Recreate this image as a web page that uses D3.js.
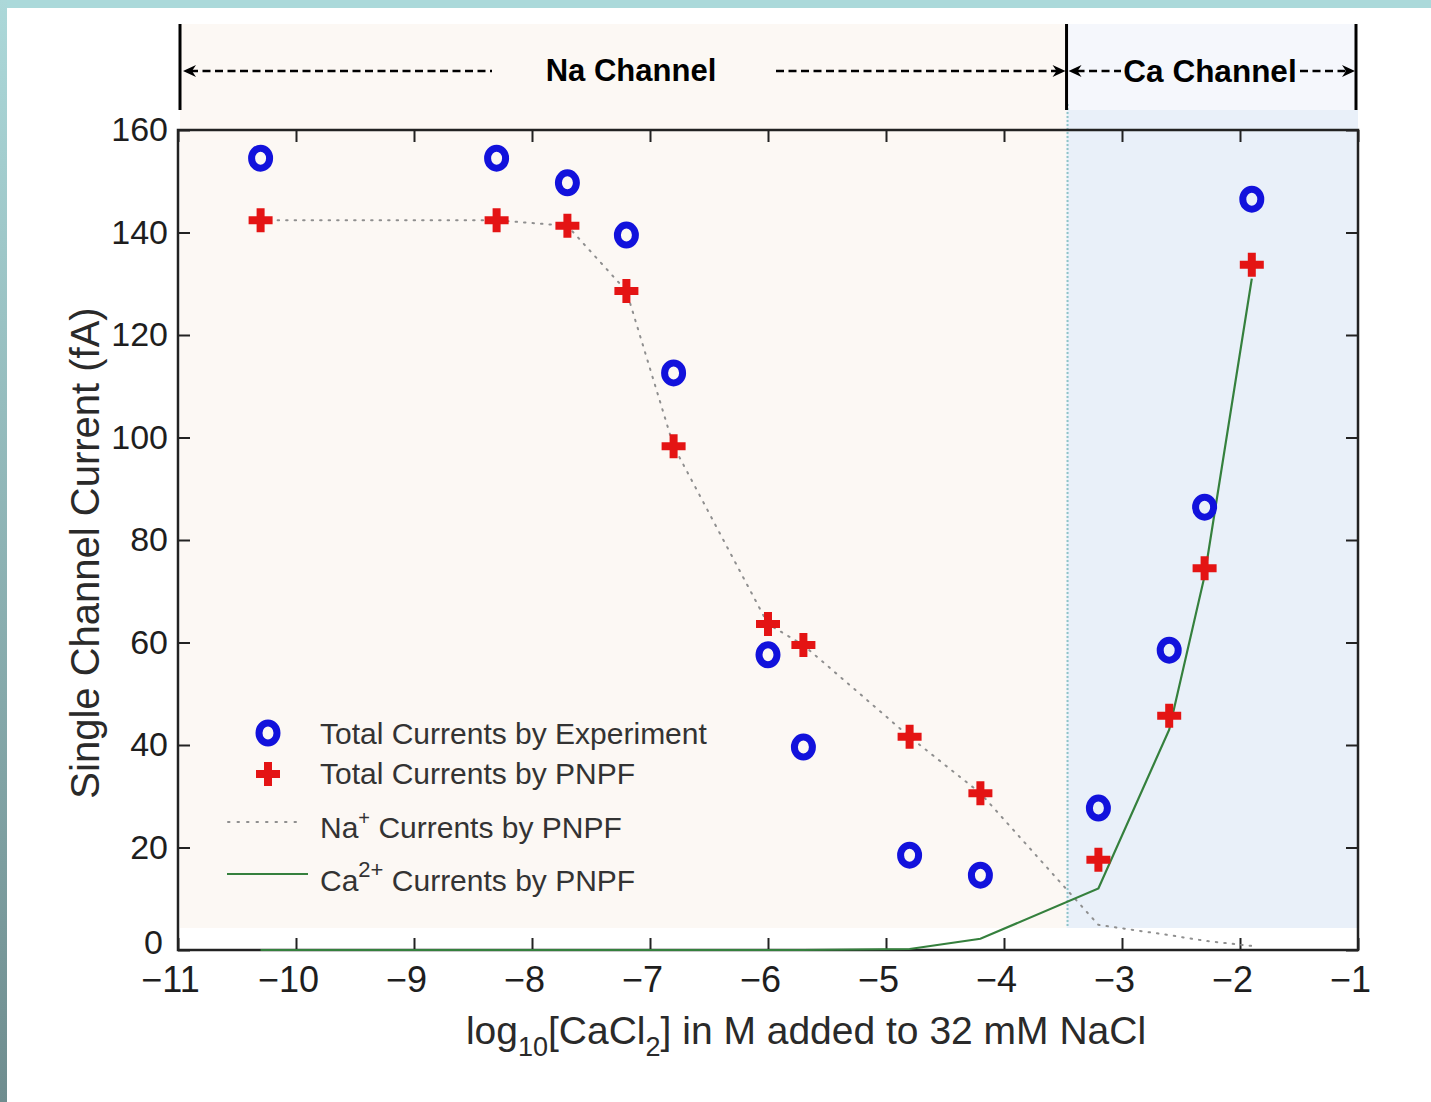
<!DOCTYPE html>
<html>
<head>
<meta charset="utf-8">
<script src="https://cdn.jsdelivr.net/npm/d3@7"></script>
<style>
  body { margin: 0; background: #ffffff; }
  svg { display: block; }
  text { font-family: "Liberation Sans", Arial, sans-serif; }
</style>
</head>
<body>
<script>
// ---------------- data ----------------
const logCaCl2 = [-10.3, -8.3, -7.7, -7.2, -6.8, -6.0, -5.7, -4.8, -4.2, -3.2, -2.6, -2.3, -1.9];
const expTotal = [154.5, 154.5, 149.7, 139.5, 112.6, 57.6, 39.6, 18.5, 14.6, 27.7, 58.5, 86.4, 146.5];
const pnpfTotal = [142.4, 142.4, 141.3, 128.6, 98.3, 63.6, 59.5, 41.6, 30.6, 17.6, 45.7, 74.5, 133.7];
const naPNPF = [142.4, 142.4, 141.3, 128.6, 98.3, 63.6, 59.5, 41.6, 30.6, 4.9, 2.9, 1.8, 0.8];
const caPNPF = [0, 0, 0, 0, 0, 0, 0, 0.2, 2.2, 12, 43, 73, 131];
const xTicks = [-11, -10, -9, -8, -7, -6, -5, -4, -3, -2, -1];
const yTicks = [0, 20, 40, 60, 80, 100, 120, 140, 160];
const channelBoundary = -3.47;
const legendLabels = ["Total Currents by Experiment", "Total Currents by PNPF", "Na", "Ca"];

// ---------------- layout ----------------
const W = 1431, H = 1102;
const x = d3.scaleLinear().domain([-11, -1]).range([178, 1358]);
const y = d3.scaleLinear().domain([0, 160]).range([950, 130]);

const svg = d3.select("body").append("svg").attr("width", W).attr("height", H);

// page decoration
const defs = svg.append("defs");
const lg = defs.append("linearGradient").attr("id", "leftband").attr("x1", 0).attr("y1", 0).attr("x2", 0).attr("y2", 1);
lg.append("stop").attr("offset", "0%").attr("stop-color", "#acd8d9");
lg.append("stop").attr("offset", "100%").attr("stop-color", "#6f8d8f");
svg.append("rect").attr("x", 0).attr("y", 0).attr("width", W).attr("height", 8).attr("fill", "#abd9da");
svg.append("rect").attr("x", 0).attr("y", 0).attr("width", 7).attr("height", H).attr("fill", "url(#leftband)");

// background panels
const xb = x(channelBoundary);
svg.append("rect").attr("x", x(-11) + 2).attr("y", 24).attr("width", xb - x(-11) - 2).attr("height", y(4.3) - 24).attr("fill", "#fcf8f4");
svg.append("rect").attr("x", xb).attr("y", 24).attr("width", x(-1) - 2 - xb).attr("height", 86).attr("fill", "#f5f7fc");
svg.append("rect").attr("x", xb).attr("y", 110).attr("width", x(-1) - xb).attr("height", y(4.3) - 110).attr("fill", "#e9f0f9");
svg.append("line").attr("x1", xb + 1).attr("x2", xb + 1).attr("y1", 104).attr("y2", y(4.3))
  .attr("stroke", "#8fc4c8").attr("stroke-width", 2).attr("stroke-dasharray", "2,2");

// header
const hdr = svg.append("g");
[x(-11) + 2, xb, x(-1) - 2].forEach(xx => {
  hdr.append("line").attr("x1", xx).attr("x2", xx).attr("y1", 24).attr("y2", 110)
    .attr("stroke", "#000").attr("stroke-width", 3);
});
const hy = 71;
function dashed(x1, x2) {
  hdr.append("line").attr("x1", x1).attr("x2", x2).attr("y1", hy).attr("y2", hy)
    .attr("stroke", "#000").attr("stroke-width", 2.5).attr("stroke-dasharray", "8,4.5");
}
function arrowL(xx) {
  hdr.append("path").attr("d", `M${xx},${hy} L${xx + 13},${hy - 6} L${xx + 9},${hy} L${xx + 13},${hy + 6} Z`).attr("fill", "#000");
}
function arrowR(xx) {
  hdr.append("path").attr("d", `M${xx},${hy} L${xx - 13},${hy - 6} L${xx - 9},${hy} L${xx - 13},${hy + 6} Z`).attr("fill", "#000");
}
dashed(190, 492); arrowL(183);
dashed(776, xb - 8); arrowR(xb - 1);
dashed(xb + 10, 1121); arrowL(xb + 2);
dashed(1300, x(-1) - 10); arrowR(x(-1) - 3);
hdr.append("text").attr("x", 631).attr("y", 81).attr("text-anchor", "middle")
  .attr("font-size", 31).attr("font-weight", "bold").attr("fill", "#000").text("Na Channel");
hdr.append("text").attr("x", 1210).attr("y", 82).attr("text-anchor", "middle")
  .attr("font-size", 31.5).attr("font-weight", "bold").attr("fill", "#000").text("Ca Channel");

// axes
function styleAxis(g, fs) {
  g.select(".domain").remove();
  g.selectAll(".tick line").attr("stroke", "#222").attr("stroke-width", 2);
  g.selectAll(".tick text").attr("font-size", fs).attr("fill", "#1e1e1e")
    .attr("font-family", "'Liberation Sans', Arial, sans-serif");
}
svg.append("g").attr("transform", `translate(0,${y(0)})`)
  .call(d3.axisBottom(x).tickValues(xTicks).tickSizeInner(-12).tickSizeOuter(0).tickPadding(16))
  .call(styleAxis, 36)
  .call(g => g.selectAll(".tick text").attr("dx", -8));
svg.append("g").attr("transform", `translate(0,${y(160)})`)
  .call(d3.axisTop(x).tickValues(xTicks).tickSizeInner(-12).tickSizeOuter(0).tickFormat(""))
  .call(styleAxis, 36);
svg.append("g").attr("transform", `translate(${x(-11)},0)`)
  .call(d3.axisLeft(y).tickValues(yTicks).tickSizeInner(-12).tickSizeOuter(0).tickPadding(10))
  .call(styleAxis, 34)
  .call(g => g.selectAll(".tick text").filter(d => d === 0).attr("dx", -5).attr("dy", "0.1em"));
svg.append("g").attr("transform", `translate(${x(-1)},0)`)
  .call(d3.axisRight(y).tickValues(yTicks).tickSizeInner(-12).tickSizeOuter(0).tickFormat(""))
  .call(styleAxis, 34);
svg.append("rect").attr("x", x(-11)).attr("y", y(160)).attr("width", x(-1) - x(-11)).attr("height", y(0) - y(160))
  .attr("fill", "none").attr("stroke", "#222").attr("stroke-width", 2.5);

// axis titles
svg.append("text").attr("transform", "translate(99,553) rotate(-90)").attr("text-anchor", "middle")
  .attr("font-size", 40).attr("fill", "#2a2a2a").text("Single Channel Current (fA)");
const xt = svg.append("text").attr("x", 806).attr("y", 1044).attr("text-anchor", "middle")
  .attr("font-size", 39).attr("fill", "#2a2a2a");
xt.append("tspan").text("log");
xt.append("tspan").attr("font-size", 27).attr("dy", 12).text("10");
xt.append("tspan").attr("dy", -12).text("[CaCl");
xt.append("tspan").attr("font-size", 27).attr("dy", 12).text("2");
xt.append("tspan").attr("dy", -12).text("] in M added to 32 mM NaCl");

// series data
const pts = logCaCl2.map((v, i) => ({ x: v, exp: expTotal[i], tot: pnpfTotal[i], na: naPNPF[i], ca: caPNPF[i] }));

// Na+ dotted line
svg.append("path").datum(pts)
  .attr("d", d3.line().x(d => x(d.x)).y(d => y(d.na)))
  .attr("fill", "none").attr("stroke", "#8f8f8f").attr("stroke-width", 2)
  .attr("stroke-dasharray", "1.5,7").attr("stroke-linecap", "round");
// Ca2+ solid line
svg.append("path").datum(pts)
  .attr("d", d3.line().x(d => x(d.x)).y(d => y(d.ca)))
  .attr("fill", "none").attr("stroke", "#35803d").attr("stroke-width", 2.2);

// markers
const crossSym = d3.symbol().type(d3.symbolCross).size(320);
svg.append("g").selectAll("path").data(pts).join("path")
  .attr("transform", d => `translate(${x(d.x)},${y(d.tot)})`)
  .attr("d", crossSym).attr("fill", "#e41414");
svg.append("g").selectAll("ellipse").data(pts).join("ellipse")
  .attr("cx", d => x(d.x)).attr("cy", d => y(d.exp)).attr("rx", 9).attr("ry", 10)
  .attr("fill", "none").attr("stroke", "#1212dc").attr("stroke-width", 7);

// legend
const lgd = svg.append("g");
lgd.append("ellipse").attr("cx", 268).attr("cy", 733).attr("rx", 9).attr("ry", 10).attr("fill", "none")
  .attr("stroke", "#1212dc").attr("stroke-width", 7);
lgd.append("path").attr("transform", "translate(268,774)").attr("d", crossSym).attr("fill", "#e41414");
lgd.append("line").attr("x1", 228).attr("x2", 304).attr("y1", 822).attr("y2", 822)
  .attr("stroke", "#8f8f8f").attr("stroke-width", 2).attr("stroke-dasharray", "1.5,8").attr("stroke-linecap", "round");
lgd.append("line").attr("x1", 227).attr("x2", 308).attr("y1", 874).attr("y2", 874)
  .attr("stroke", "#35803d").attr("stroke-width", 2.2);
const lt = (yy) => lgd.append("text").attr("x", 320).attr("y", yy).attr("font-size", 30).attr("fill", "#333");
lt(744).text(legendLabels[0]);
lt(784).text(legendLabels[1]);
const t3 = lt(838);
t3.append("tspan").text(legendLabels[2]);
t3.append("tspan").attr("font-size", 20).attr("dy", -13).text("+");
t3.append("tspan").attr("dy", 13).text(" Currents by PNPF");
const t4 = lt(891);
t4.append("tspan").text(legendLabels[3]);
t4.append("tspan").attr("font-size", 22).attr("dy", -14).text("2+");
t4.append("tspan").attr("dy", 14).text(" Currents by PNPF");
</script>
</body>
</html>
